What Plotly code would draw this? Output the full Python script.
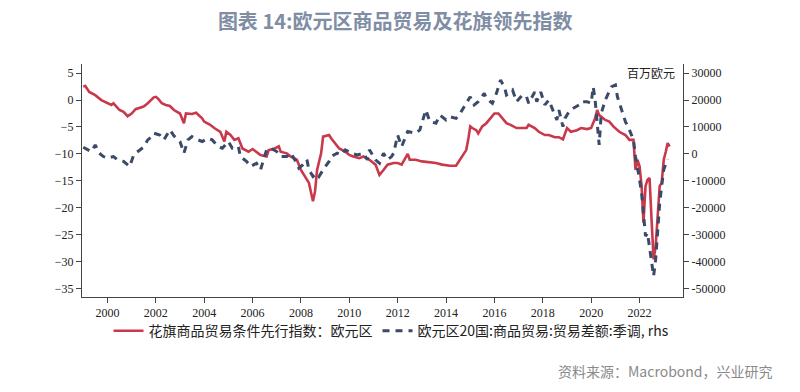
import plotly.graph_objects as go

# ---- data ----
citi_dates = ["1999-01","1999-02","1999-04","1999-07","1999-10","2000-01","2000-03","2000-04","2000-07","2000-09","2000-11",
"2001-01","2001-03","2001-07","2001-09","2001-12","2002-01","2002-02","2002-04","2002-06","2002-08","2002-10",
"2003-01","2003-03","2003-04","2003-07","2003-09","2003-12","2004-01","2004-04","2004-06","2004-09","2004-11","2004-12",
"2005-02","2005-04","2005-06","2005-08","2005-11","2006-01","2006-03","2006-05","2006-08","2006-09","2006-12",
"2007-02","2007-03","2007-06","2007-08","2007-11","2008-01","2008-02","2008-05","2008-07","2008-08","2008-09","2008-11","2008-12",
"2009-03","2009-04","2009-06","2009-08","2009-11","2010-01","2010-03","2010-06","2010-08","2010-11",
"2011-02","2011-04","2011-06","2011-08","2011-11","2012-01","2012-03","2012-06","2012-07","2012-10",
"2013-01","2013-05","2013-08","2013-11","2014-03","2014-06","2014-08","2014-09","2014-11","2014-12",
"2015-01","2015-02","2015-04","2015-05","2015-07","2015-09","2015-11","2016-01","2016-03","2016-05","2016-07","2016-09","2016-12",
"2017-02","2017-05","2017-06","2017-09","2017-11","2018-02","2018-04","2018-07","2018-09","2018-11",
"2019-01","2019-03","2019-06","2019-08","2019-11","2020-01","2020-03","2020-04","2020-05","2020-08","2020-10","2020-12",
"2021-03","2021-06","2021-08","2021-10","2021-11","2021-12","2022-01","2022-02","2022-03","2022-04","2022-05","2022-06",
"2022-07","2022-08","2022-09","2022-10","2022-11","2022-12","2023-01","2023-02","2023-03","2023-04"]
citi_values = [2.5,2.6,1.5,0.9,0.0,-0.5,-0.9,-0.6,-1.85,-2.2,-3.0,
-2.5,-1.7,-1.2,-0.6,0.5,0.6,0.3,-0.6,-0.9,-1.1,-1.85,
-2.5,-4.3,-2.5,-2.6,-2.35,-3.4,-4.0,-4.6,-5.2,-5.9,-7.7,-5.9,
-6.5,-7.4,-7.1,-9.0,-9.6,-9.1,-9.6,-10.2,-10.5,-9.3,-9.0,
-8.6,-9.6,-9.9,-10.5,-11.1,-13.0,-13.6,-15.4,-18.8,-17.0,-13.0,-9.9,-6.8,
-6.5,-7.1,-8.0,-9.0,-9.6,-10.2,-10.5,-10.8,-10.5,-11.1,
-12.0,-13.9,-13.0,-12.0,-11.7,-11.7,-12.0,-10.0,-11.1,-11.1,
-11.4,-11.6,-11.7,-12.0,-12.2,-12.2,-11.1,-10.5,-9.3,-7.4,
-4.9,-5.2,-5.6,-6.2,-4.9,-4.3,-3.4,-2.5,-2.5,-3.4,-4.3,-4.6,-5.2,
-5.2,-5.2,-4.6,-5.2,-5.9,-6.5,-6.5,-6.9,-6.9,-7.3,
-5.2,-5.9,-5.6,-5.2,-5.4,-5.2,-3.4,-1.85,-2.8,-3.7,-4.0,-4.9,
-5.9,-6.5,-7.4,-7.4,-13.0,-11.1,-12.3,-16.0,-22.8,-16.0,-14.8,-14.5,
-22.2,-29.6,-27.2,-22.2,-16.0,-15.4,-11.1,-9.6,-8.0,-8.6]

trade_dates = ["1999-01","1999-03","1999-05","1999-07","1999-09","1999-11","2000-01","2000-04","2000-06","2000-09","2000-11","2000-12",
"2001-02","2001-03","2001-07","2001-09","2001-11","2001-12","2002-03","2002-05","2002-08","2002-10",
"2003-01","2003-03","2003-05","2003-07","2003-10","2003-12","2004-03","2004-05","2004-08","2004-10",
"2005-01","2005-03","2005-06","2005-07","2005-10","2005-12","2006-03","2006-05","2006-08","2006-10",
"2007-01","2007-03","2007-06","2007-08","2007-10","2007-12","2008-02","2008-04","2008-05","2008-07","2008-09","2008-10","2008-12",
"2009-03","2009-04","2009-07","2009-09","2009-11","2010-02","2010-05","2010-08","2010-10","2010-11",
"2011-02","2011-04","2011-06","2011-08","2011-10","2011-11","2012-01","2012-03","2012-04","2012-06","2012-10","2012-12",
"2013-03","2013-05","2013-08","2013-10","2014-01","2014-03","2014-06","2014-08","2014-11",
"2015-01","2015-03","2015-05","2015-08","2015-09","2015-12","2016-02","2016-04","2016-06","2016-07","2016-10","2016-12",
"2017-03","2017-05","2017-06","2017-09","2017-10","2017-12","2018-02","2018-04","2018-06","2018-08","2018-09","2018-11","2018-12",
"2019-02","2019-04","2019-07","2019-08","2019-11","2020-01","2020-02","2020-03","2020-04","2020-05","2020-06","2020-08","2020-11",
"2021-01","2021-02","2021-04","2021-06","2021-08","2021-10","2021-11","2021-12","2022-01","2022-02","2022-03","2022-04",
"2022-05","2022-06","2022-07","2022-08","2022-09","2022-10","2022-11","2022-12","2023-01","2023-03"]
trade_values = [2470,1800,860,3300,250,-1000,-1600,-1000,-2200,-2800,-4000,-4700,
-400,250,2500,5200,6400,7700,7000,5200,8900,6700,
4600,250,5200,6400,5200,4600,5800,5200,2700,2100,
4600,2100,2700,-1000,-2800,-4700,-3500,-5900,1500,2100,
860,-1000,-1000,250,-2200,-5300,-4000,-2200,-5900,-8400,-7200,-8400,-5900,
-2800,-1000,250,-400,1500,250,-400,250,-2200,1500,
-2200,-3500,250,-2200,-1000,250,7000,2700,4600,8300,7700,8900,
16300,12000,11400,14400,12600,13800,13200,15000,18800,
21200,18200,19400,22500,20600,18800,22500,27400,24900,21900,23700,19400,
21900,21200,18800,23000,19400,23000,18200,20000,16300,12600,16300,10100,13200,
15700,16900,18200,19400,19400,18800,24900,20000,10100,3300,15000,20000,24900,
25600,21200,16300,12000,8900,5200,-1000,-4700,-9600,-14600,-23200,-30600,
-29400,-34300,-39300,-45400,-39300,-28100,-18300,-12000,-5900,-2000]

year_ticks = ["2000-01-01","2002-01-01","2004-01-01","2006-01-01","2008-01-01","2010-01-01",
              "2012-01-01","2014-01-01","2016-01-01","2018-01-01","2020-01-01","2022-01-01"]
year_labels = ["2000","2002","2004","2006","2008","2010","2012","2014","2016","2018","2020","2022"]
left_ticks = [5, 0, -5, -10, -15, -20, -25, -30, -35]
right_ticks = [30000, 20000, 10000, 0, -10000, -20000, -30000, -40000, -50000]
right_labels = ["30000", "20000", "10000", "0", "-10000", "-20000", "-30000", "-40000", "-50000"]

RED = "#c9384b"
BLUE = "#3b4a69"
AXC = "#444444"
TICKFONT = dict(family="Liberation Serif", size=12, color="#222222")
CJK = "Noto Sans CJK SC"

fig = go.Figure()
fig.add_trace(go.Scatter(x=citi_dates, y=citi_values, mode="lines",
                         name="花旗商品贸易条件先行指数：欧元区",
                         line=dict(color=RED, width=2.6), yaxis="y"))
fig.add_trace(go.Scatter(x=trade_dates, y=trade_values, mode="lines",
                         name="欧元区20国:商品贸易:贸易差额:季调, rhs",
                         line=dict(color=BLUE, width=3, dash="7px,6px"), yaxis="y2"))

fig.update_layout(
    width=800, height=392,
    margin=dict(l=82, r=117, t=64, b=95),
    paper_bgcolor="white", plot_bgcolor="white",
    showlegend=True,
    legend=dict(orientation="h", x=0.515, xanchor="center", y=-0.078, yanchor="top",
                font=dict(family=CJK, size=14, color="#222222"),
                bgcolor="rgba(0,0,0,0)", itemwidth=30, tracegroupgap=0),
    xaxis=dict(type="date", range=["1998-12-13", "2023-10-19"],
               tickmode="array", tickvals=year_ticks, ticktext=year_labels,
               showgrid=False, zeroline=False, showline=True, linecolor=AXC, linewidth=1,
               ticks="outside", ticklen=5, tickcolor=AXC, tickfont=TICKFONT),
    yaxis=dict(range=[-36.6, 6.7], tickmode="array", tickvals=left_ticks,
               showgrid=False, zeroline=False, showline=True, linecolor=AXC, linewidth=1,
               ticks="outside", ticklen=5, tickcolor=AXC, tickfont=TICKFONT),
    yaxis2=dict(range=[-53200, 33400], overlaying="y", side="right", tickmode="array",
                tickvals=right_ticks, ticktext=right_labels, showgrid=False, zeroline=False,
                showline=True, linecolor=AXC, linewidth=1, ticks="outside", ticklen=5,
                tickcolor=AXC, tickfont=TICKFONT),
    title=dict(text="<b>图表 14:欧元区商品贸易及花旗领先指数</b>", x=0.494, xanchor="center",
               y=0.944, yanchor="middle", font=dict(family=CJK, size=20, color="#7f8da5")),
)

fig.add_annotation(text="百万欧元", xref="paper", yref="paper", x=0.99, y=0.965,
                   xanchor="right", yanchor="middle", showarrow=False,
                   font=dict(family=CJK, size=12, color="#222222"))
fig.add_annotation(text="资料来源：Macrobond，兴业研究", xref="paper", yref="paper",
                   x=(775 - 82) / 601, y=(297 - 371) / 233, xanchor="right", yanchor="middle",
                   showarrow=False, font=dict(family=CJK, size=14, color="#8a8a8a"))

fig.write_html("out.html", config={"displayModeBar": False},
               post_script="document.body.style.margin='0px';")
